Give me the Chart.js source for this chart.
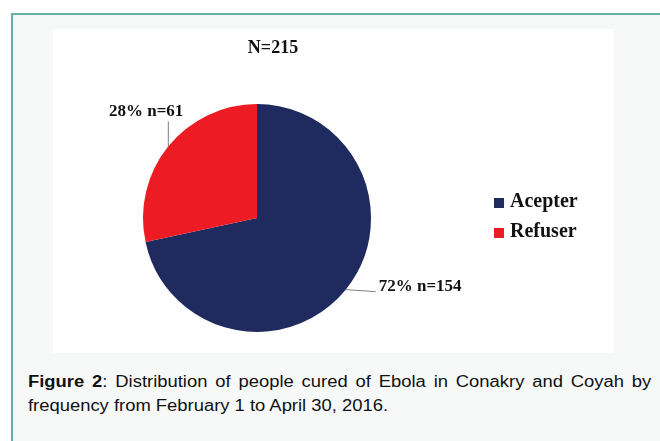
<!DOCTYPE html>
<html>
<head>
<meta charset="utf-8">
<script src="https://cdn.jsdelivr.net/npm/chart.js@4/dist/chart.umd.min.js"></script>
<style>
  html, body { margin: 0; padding: 0; background: #fff; }
  body { width: 660px; height: 441px; position: relative; overflow: hidden; }
  #frame {
    position: absolute; left: 11px; top: 13px; width: 660px; height: 440px;
    background: #f7f9f9;
    border-top: 2px solid #6aaeac; border-left: 2px solid #6aaeac;
  }
  #panel { position: absolute; left: 53px; top: 29px; width: 561px; height: 324px; background: #fff; }
  .cap {
    position: absolute; left: 28px; font-family: Arial, "Liberation Sans", sans-serif;
    font-size: 16px; color: #111; white-space: nowrap;
    transform: scaleX(1.15); transform-origin: left top;
  }
  #cap1 { top: 373px; width: 542px; white-space: normal; text-align: justify; text-align-last: justify; }
  #cap2 { top: 397px; }
</style>
</head>
<body>
<div id="frame"></div>
<div id="panel"><canvas id="pie" width="561" height="324"></canvas></div>
<div class="cap" id="cap1"><b>Figure 2</b>: Distribution of people cured of Ebola in Conakry and Coyah by</div>
<div class="cap" id="cap2">frequency from February 1 to April 30, 2016.</div>

<script>
const categories = ["Acepter", "Refuser"];
const counts = [154, 61];
const colors = ["#1f2a5e", "#ed1c24"];

const total = counts.reduce((a, b) => a + b, 0);

// labels, title and legend drawn on top of the pie
const annotate = {
  id: "annotate",
  afterDraw(chart) {
    const ctx = chart.ctx;
    const arcs = chart.getDatasetMeta(0).data;
    ctx.save();
    ctx.fillStyle = "#111";
    ctx.textBaseline = "middle";

    ctx.font = "bold 18px 'Liberation Serif', 'Times New Roman', serif";
    ctx.textAlign = "center";
    ctx.fillText("N=" + total, 220, 19);

    ctx.strokeStyle = "#808080";
    ctx.lineWidth = 1;
    ctx.font = "bold 17px 'Liberation Serif', 'Times New Roman', serif";
    arcs.forEach((arc, i) => {
      const mid = (arc.startAngle + arc.endAngle) / 2;
      const px = arc.x + Math.cos(mid) * arc.outerRadius;
      const py = arc.y + Math.sin(mid) * arc.outerRadius;
      const pct = Math.round(counts[i] / total * 100);
      const txt = pct + "% n=" + counts[i];
      ctx.beginPath();
      ctx.moveTo(px, py);
      if (px < arc.x) {
        ctx.lineTo(px, py - 25);
        ctx.stroke();
        ctx.textAlign = "right";
        ctx.fillText(txt, px + 15, py - 35);
      } else {
        ctx.lineTo(px + 30, py + 2);
        ctx.stroke();
        ctx.textAlign = "left";
        ctx.fillText(txt, px + 33, py - 3);
      }
    });

    ctx.font = "bold 20px 'Liberation Serif', 'Times New Roman', serif";
    ctx.textAlign = "left";
    categories.forEach((c, i) => {
      const y = 173 + i * 30;
      ctx.fillStyle = colors[i];
      ctx.fillRect(441, y - 4, 10, 10);
      ctx.fillStyle = "#111";
      ctx.fillText(c, 457, y);
    });
    ctx.restore();
  }
};

new Chart(document.getElementById("pie"), {
  type: "pie",
  data: {
    labels: categories,
    datasets: [{
      data: counts,
      backgroundColor: colors,
      borderWidth: 0,
      hoverOffset: 0,
    }],
  },
  options: {
    responsive: false,
    animation: false,
    devicePixelRatio: 1,
    layout: { padding: { left: 90, right: 243, top: 75, bottom: 21 } },
    plugins: {
      legend: { display: false },
      tooltip: { enabled: false },
    },
  },
  plugins: [annotate],
});
</script>
</body>
</html>
